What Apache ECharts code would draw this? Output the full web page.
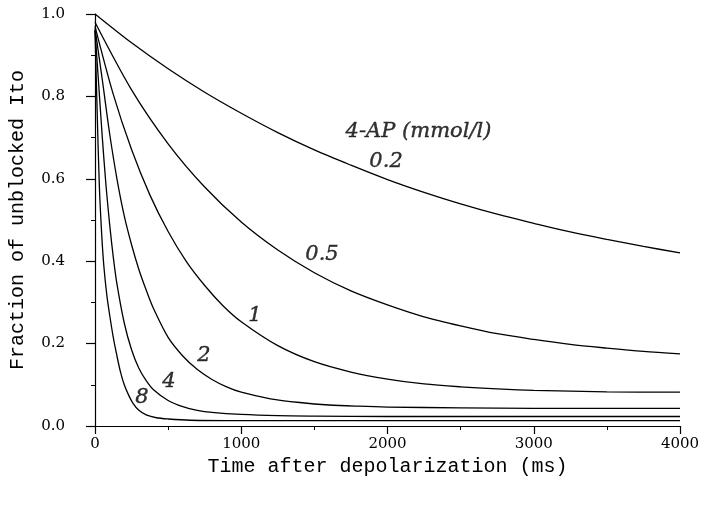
<!DOCTYPE html>
<html><head><meta charset="utf-8">
<script src="https://cdn.jsdelivr.net/npm/echarts@6/dist/echarts.min.js"></script>
<style>html,body{margin:0;padding:0;background:#fff}#c{width:707px;height:506px}</style>
</head><body><div id="c"></div>
<script>
// Tick labels
const xTickLabels = ['0', '1000', '2000', '3000', '4000'];
const yTickLabels = ['0.0', '0.2', '0.4', '0.6', '0.8', '1.0'];

// 4-AP concentrations (mmol/l)
const concentrations = ['0.2', '0.5', '1', '2', '4', '8'];

// Series values (time in ms, fraction unblocked)
const t02 = [0,250,500,750,1000,1250,1500,1750,2000,2250,2500,2750,3000,3250,3500,3750,4000];
const v02 = [1.0,0.930,0.867,0.810,0.759,0.712,0.670,0.633,0.598,0.567,0.539,0.514,0.492,0.471,0.453,0.436,0.420];

const t05 = [0,250,500,750,1000,1250,1500,1750,2000,2250,2500,2750,3000,3250,3500,3750,4000];
const v05 = [0.98,0.816,0.685,0.580,0.495,0.427,0.372,0.328,0.294,0.265,0.243,0.224,0.210,0.198,0.189,0.181,0.175];

const t1 = [0,125,250,375,500,625,750,875,1000,1250,1500,1750,2000,2250,2500,2750,3000,3500,4000];
const v1 = [0.97,0.805,0.671,0.561,0.472,0.399,0.341,0.292,0.253,0.195,0.156,0.131,0.114,0.102,0.095,0.090,0.0865,0.083,0.082];

const t2 = [0,50,100,150,200,250,300,350,400,500,600,700,800,900,1000,1200,1400,1600,1800,2000,2500,3000,3500,4000];
const v2 = [0.965,0.84,0.71,0.60,0.51,0.44,0.38,0.33,0.285,0.215,0.17,0.137,0.113,0.095,0.082,0.066,0.057,0.051,0.048,0.046,0.044,0.043,0.043,0.043];

const t4 = [0,25,50,75,100,125,150,200,250,300,350,400,500,600,700,800,1000,1250,1500,2000,3000,4000];
const v4 = [0.96,0.83,0.70,0.585,0.49,0.41,0.345,0.25,0.185,0.14,0.11,0.088,0.062,0.047,0.038,0.033,0.028,0.025,0.024,0.023,0.023,0.023];

const t8 = [0,15,30,45,60,80,100,125,150,175,200,230,260,300,350,420,500,650,1000,2000,4000];
const v8 = [0.96,0.76,0.58,0.47,0.39,0.32,0.27,0.215,0.17,0.13,0.10,0.075,0.055,0.038,0.027,0.02,0.017,0.014,0.013,0.013,0.013];

// Label anchor points (data space) for annotations
const curveLabelPos = [[1990,0.641],[1552,0.415],[1094,0.269],[745,0.172],[506,0.107],[321,0.068]];
const legendTitle = '4-AP (mmol/l)';
const legendTitlePos = [2212, 0.714];

const curves = [[t02,v02],[t05,v05],[t1,v1],[t2,v2],[t4,v4],[t8,v8]];
const FONT = 'DejaVu Serif';
const TITLE_FONT = 'Liberation Mono';

const lineSeries = curves.map(([t, v], i) => ({
  type: 'line',
  name: concentrations[i],
  data: t.map((x, k) => [x, v[k]]),
  showSymbol: false,
  smooth: 0.3,
  lineStyle: { color: '#000', width: 1.3 },
  itemStyle: { color: '#000' },
  silent: true,
  z: 2
}));

const labelData = curveLabelPos.map((p, i) => ({ value: p, name: concentrations[i] }));
labelData.push({ value: legendTitlePos, name: legendTitle });

const chart = echarts.init(document.getElementById('c'), null, { renderer: 'canvas' });
chart.setOption({
  animation: false,
  backgroundColor: '#fff',
  grid: { left: 95, right: 27, top: 14, bottom: 80, containLabel: false, outerBoundsMode: 'none' },
  xAxis: {
    type: 'value', min: 0, max: 4000, interval: 1000,
    name: 'Time after depolarization (ms)', nameLocation: 'middle', nameGap: 31,
    nameTextStyle: { fontFamily: TITLE_FONT, fontSize: 20, color: '#000' },
    axisLine: { show: true, lineStyle: { color: '#000', width: 1.2 } },
    axisTick: { show: true, length: 8, lineStyle: { color: '#000', width: 1.2 } },
    minorTick: { show: true, splitNumber: 2, length: 4, lineStyle: { color: '#000', width: 1 } },
    splitLine: { show: false },
    axisLabel: { margin: 11, fontFamily: FONT, fontSize: 15, color: '#000',
      formatter: (val) => xTickLabels[Math.round(val / 1000)] }
  },
  yAxis: {
    type: 'value', min: 0, max: 1, interval: 0.2,
    name: 'Fraction of unblocked Ito', nameLocation: 'middle', nameGap: 67,
    nameTextStyle: { fontFamily: TITLE_FONT, fontSize: 20, color: '#000' },
    axisLine: { show: true, lineStyle: { color: '#000', width: 1.2 } },
    axisTick: { show: true, length: 9, lineStyle: { color: '#000', width: 1.2 } },
    minorTick: { show: true, splitNumber: 2, length: 4, lineStyle: { color: '#000', width: 1 } },
    splitLine: { show: false },
    axisLabel: { margin: 30, fontFamily: FONT, fontSize: 15, color: '#000',
      formatter: (val) => yTickLabels[Math.round(val / 0.2)] }
  },
  series: [
    ...lineSeries,
    {
      type: 'scatter',
      data: labelData,
      symbolSize: 0,
      silent: true,
      itemStyle: { color: '#000' },
      z: 3,
      label: {
        show: true, position: 'inside',
        formatter: (p) => p.name,
        fontFamily: FONT, fontStyle: 'italic', fontSize: 21, color: '#000',
        textBorderColor: '#000', textBorderWidth: 0.4
      }
    }
  ]
});
</script>
</body></html>
